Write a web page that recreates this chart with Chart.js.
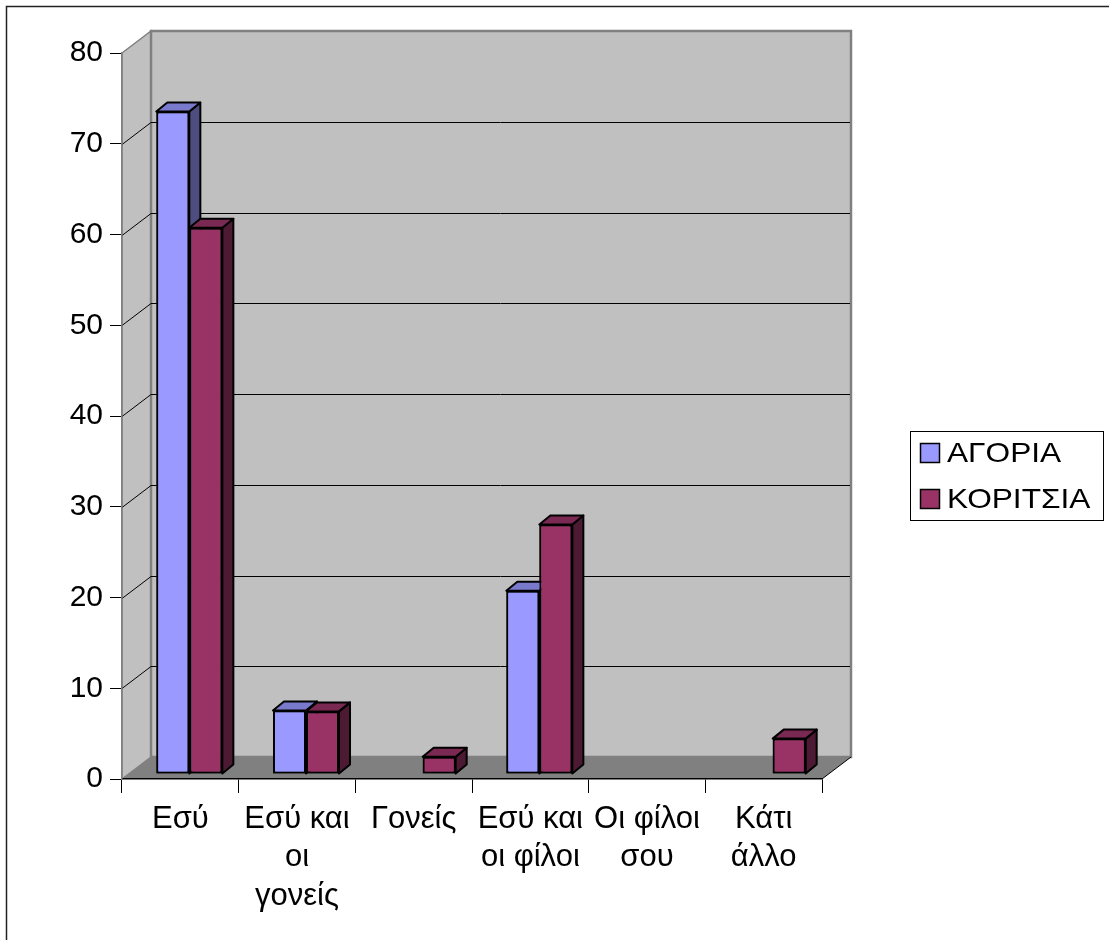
<!DOCTYPE html>
<html>
<head>
<meta charset="utf-8">
<script src="https://cdn.jsdelivr.net/npm/chart.js@4/dist/chart.umd.min.js"></script>
<style>
  html, body { margin: 0; padding: 0; background: #fff; }
  #wrap { width: 1109px; height: 940px; }
</style>
</head>
<body>
<div id="wrap"><canvas id="myChart" width="1109" height="940"></canvas></div>
<script>
// data
var categories = ['Εσύ', ['Εσύ και', 'οι', 'γονείς'], 'Γονείς', ['Εσύ και', 'οι φίλοι'], ['Οι φίλοι', 'σου'], ['Κάτι', 'άλλο']];
var agoria = [73, 7, 0, 20.2, 0, 0];
var koritsia = [60.2, 6.9, 1.9, 27.5, 0, 3.9];
var seriesNames = ['ΑΓΟΡΙΑ', 'ΚΟΡΙΤΣΙΑ'];
var seriesColors = ['#9999FF', '#993366'];
var yTicks = [0, 10, 20, 30, 40, 50, 60, 70, 80];

var FONT = "'Liberation Sans', Arial, sans-serif";
var WALL_DX = 29, WALL_DY = -22;   // depth of the walls
var BAR_DX = 11, BAR_DY = -9;      // depth of each bar
var BAR_SHIFT_X = 9, BAR_SHIFT_Y = -5;

function shade(hex, f) {
    var n = parseInt(hex.slice(1), 16);
    var r = Math.round(((n >> 16) & 255) * f);
    var g = Math.round(((n >> 8) & 255) * f);
    var b = Math.round((n & 255) * f);
    return 'rgb(' + r + ',' + g + ',' + b + ')';
}

function poly(ctx, pts) {
    ctx.beginPath();
    ctx.moveTo(pts[0][0], pts[0][1]);
    for (var i = 1; i < pts.length; i++) ctx.lineTo(pts[i][0], pts[i][1]);
    ctx.closePath();
}

var box3d = {
    id: 'box3d',
    beforeDraw: function (chart) {
        var ctx = chart.ctx;
        var a = chart.chartArea;
        var ys = chart.scales.y;
        var L = a.left, R = a.right, T = a.top, B = a.bottom;

        ctx.save();
        // outer frame
        ctx.strokeStyle = '#222';
        ctx.lineWidth = 1.5;
        ctx.strokeRect(6.5, 6.5, 1110, 940);

        // left wall
        ctx.fillStyle = '#C0C0C0';
        poly(ctx, [[L, T], [L + WALL_DX, T + WALL_DY], [L + WALL_DX, B + WALL_DY], [L, B]]);
        ctx.fill();
        ctx.strokeStyle = '#808080';
        ctx.lineWidth = 1.5;
        ctx.stroke();

        // back wall
        ctx.fillStyle = '#C0C0C0';
        ctx.fillRect(L + WALL_DX, T + WALL_DY, R - L, B - T);
        ctx.lineWidth = 2.5;
        ctx.strokeRect(L + WALL_DX, T + WALL_DY, R - L, B - T);

        // gridlines on the walls
        ctx.strokeStyle = '#000';
        ctx.lineWidth = 1;
        yTicks.forEach(function (v) {
            if (v === 0 || v === 80) return;
            var y = Math.round(ys.getPixelForValue(v)) + 0.5;
            ctx.beginPath();
            ctx.moveTo(L, y);
            ctx.lineTo(L + WALL_DX, y + WALL_DY);
            ctx.lineTo(R + WALL_DX - 1, y + WALL_DY);
            ctx.stroke();
        });

        // floor
        ctx.fillStyle = '#808080';
        poly(ctx, [[L, B], [R, B], [R + WALL_DX, B + WALL_DY], [L + WALL_DX, B + WALL_DY]]);
        ctx.fill();
        ctx.strokeStyle = '#000';
        ctx.lineWidth = 1;
        ctx.beginPath();
        ctx.moveTo(R, B);
        ctx.lineTo(R + WALL_DX, B + WALL_DY);
        ctx.stroke();
        ctx.restore();
    },
    beforeDatasetsDraw: function (chart) {
        chart.ctx.save();
        chart.ctx.translate(BAR_SHIFT_X, BAR_SHIFT_Y);
    },
    afterDatasetsDraw: function (chart) {
        // redraw bars as boxes, series in order so the right bar covers the left bar's side
        var ctx = chart.ctx;
        chart.data.datasets.forEach(function (ds, di) {
            var meta = chart.getDatasetMeta(di);
            var col = seriesColors[di];
            meta.data.forEach(function (el, i) {
                if (!ds.data[i]) return;
                var p = el.getProps(['x', 'y', 'base', 'width'], true);
                var l = p.x - p.width / 2, r = p.x + p.width / 2, t = p.y, b = p.base;
                ctx.save();
                ctx.lineWidth = 2;
                ctx.lineJoin = 'round';
                ctx.strokeStyle = '#000';
                ctx.fillStyle = shade(col, 0.5);
                poly(ctx, [[r, t], [r + BAR_DX, t + BAR_DY], [r + BAR_DX, b + BAR_DY], [r, b]]);
                ctx.fill();
                ctx.stroke();
                ctx.fillStyle = shade(col, 0.8);
                poly(ctx, [[l, t], [l + BAR_DX, t + BAR_DY], [r + BAR_DX, t + BAR_DY], [r, t]]);
                ctx.fill();
                ctx.stroke();
                ctx.restore();
                el.draw(ctx);
            });
        });
        ctx.restore();
    },
    afterDraw: function (chart) {
        // legend box on the right
        var ctx = chart.ctx;
        ctx.save();
        ctx.strokeStyle = '#000';
        ctx.lineWidth = 1;
        ctx.fillStyle = '#fff';
        ctx.fillRect(910.5, 431.5, 193, 89);
        ctx.strokeRect(910.5, 431.5, 193, 89);
        chart.data.datasets.forEach(function (ds, i) {
            var cy = 453 + i * 46;
            ctx.fillStyle = seriesColors[i];
            ctx.fillRect(920.5, cy - 9.5, 19, 19);
            ctx.strokeStyle = '#000';
            ctx.lineWidth = 1.5;
            ctx.strokeRect(920.5, cy - 9.5, 19, 19);
            ctx.save();
            ctx.translate(947, cy);
            ctx.scale(1.13, 1);
            ctx.fillStyle = '#000';
            ctx.font = '28px ' + FONT;
            ctx.textBaseline = 'middle';
            ctx.fillText(ds.label, 0, 1);
            ctx.restore();
        });
        ctx.restore();
    }
};

var config = {
    type: 'bar',
    data: {
        labels: categories,
        datasets: [{
            label: seriesNames[0],
            data: agoria,
            backgroundColor: seriesColors[0],
            borderColor: '#000',
            borderWidth: 2,
            borderSkipped: false
        }, {
            label: seriesNames[1],
            data: koritsia,
            backgroundColor: seriesColors[1],
            borderColor: '#000',
            borderWidth: 2,
            borderSkipped: false
        }]
    },
    options: {
        responsive: false,
        animation: false,
        datasets: {
            bar: {
                categoryPercentage: 0.566,
                barPercentage: 1
            }
        },
        layout: {
            padding: { left: 0, right: 287, top: 53, bottom: 0 }
        },
        plugins: {
            legend: { display: false },
            tooltip: { enabled: false }
        },
        scales: {
            x: {
                offset: true,
                afterFit: function (scale) { scale.height = 161; },
                grid: {
                    offset: true,
                    drawOnChartArea: false,
                    drawTicks: true,
                    tickLength: 14,
                    color: '#000'
                },
                border: { display: true, color: '#000', width: 1.5 },
                ticks: {
                    color: '#000',
                    font: { family: FONT, size: 31, lineHeight: 1.24 },
                    padding: 7,
                    maxRotation: 0,
                    autoSkip: false
                }
            },
            y: {
                min: 0,
                max: 80,
                afterFit: function (scale) { scale.width = 122; },
                afterBuildTicks: function (scale) {
                    scale.ticks = yTicks.map(function (v) { return { value: v }; });
                },
                grid: {
                    drawOnChartArea: false,
                    drawTicks: true,
                    tickLength: 12,
                    color: '#000'
                },
                border: { display: true, color: '#808080', width: 1.5 },
                ticks: {
                    color: '#000',
                    font: { family: FONT, size: 30 },
                    padding: 7
                }
            }
        }
    },
    plugins: [box3d]
};

var myChart = new Chart(document.getElementById('myChart'), config);
</script>
</body>
</html>
